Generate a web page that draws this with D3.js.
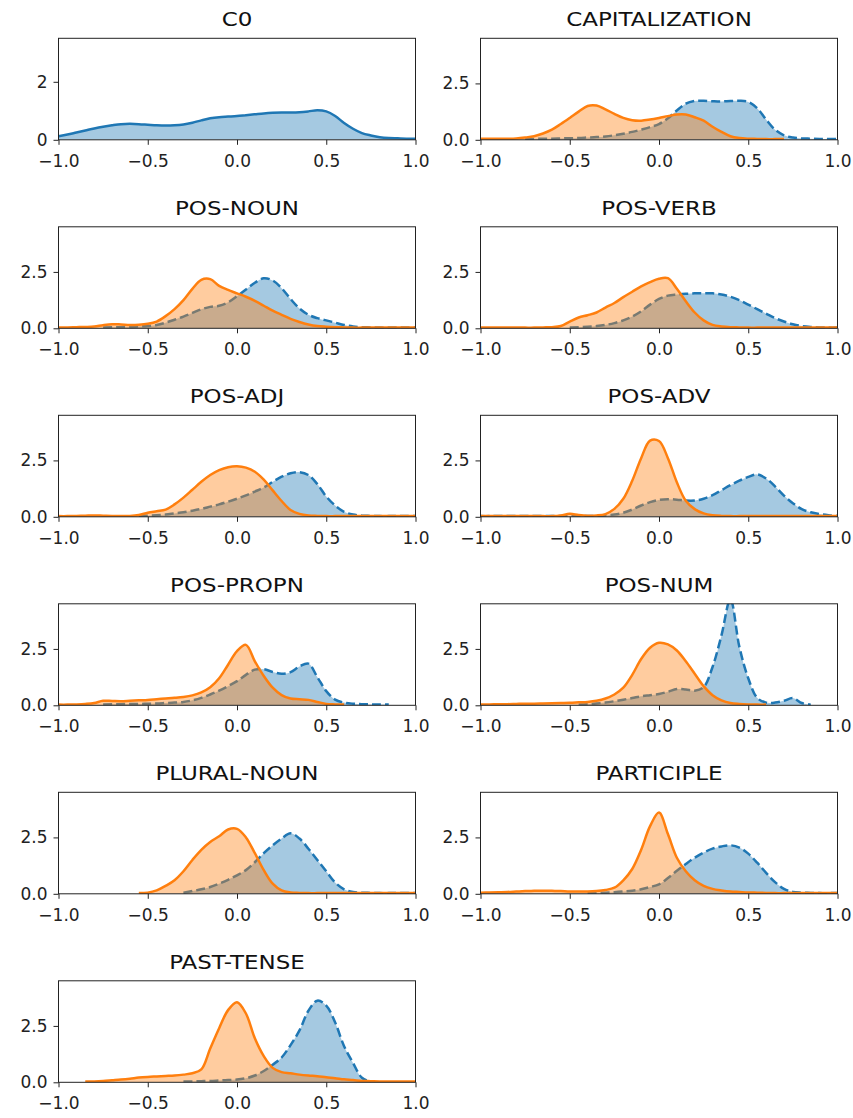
<!DOCTYPE html>
<html>
<head>
<meta charset="utf-8">
<script src="https://cdn.jsdelivr.net/npm/d3@7"></script>
<style>
  html, body { margin: 0; padding: 0; background: #fff; }
  svg { display: block; }
</style>
</head>
<body>
<svg id="chart" width="853" height="1118"></svg>
<script>
// Sampling grid shared by every density curve (x from -1 to 1 in steps of 0.05)
const gridX = [-1, -0.95, -0.9, -0.85, -0.8, -0.75, -0.7, -0.65, -0.6, -0.55,
  -0.5, -0.45, -0.4, -0.35, -0.3, -0.25, -0.2, -0.15, -0.1, -0.05,
  0, 0.05, 0.1, 0.15, 0.2, 0.25, 0.3, 0.35, 0.4, 0.45,
  0.5, 0.55, 0.6, 0.65, 0.7, 0.75, 0.8, 0.85, 0.9, 0.95, 1];

const panelTitles = ["C0", "CAPITALIZATION", "POS-NOUN", "POS-VERB", "POS-ADJ", "POS-ADV",
  "POS-PROPN", "POS-NUM", "PLURAL-NOUN", "PARTICIPLE", "PAST-TENSE"];

const xTicks = [-1, -0.5, 0, 0.5, 1];
const yTicksC0 = [0, 2];
const yTicks = [0, 2.5];
const yMaxC0 = 3.5;
const yMax = 4.5;

// Density values on gridX; null where a curve is not drawn
const c0Density = [0.12, 0.18, 0.25, 0.32, 0.39, 0.45, 0.5, 0.54, 0.55, 0.54,
  0.52, 0.5, 0.49, 0.5, 0.53, 0.59, 0.67, 0.74, 0.78, 0.8,
  0.82, 0.85, 0.88, 0.91, 0.93, 0.94, 0.94, 0.95, 0.98, 1.02,
  0.98, 0.82, 0.58, 0.38, 0.23, 0.15, 0.09, 0.06, 0.05, 0.04, 0.04];

const capitalizationBlue = [null, null, null, null, null, 0.03, 0.04, 0.05, 0.05, 0.06,
  0.07, 0.08, 0.1, 0.12, 0.15, 0.2, 0.27, 0.35, 0.45, 0.56,
  0.7, 0.95, 1.3, 1.6, 1.72, 1.73, 1.71, 1.7, 1.72, 1.73,
  1.68, 1.4, 0.9, 0.45, 0.2, 0.1, 0.06, 0.05, 0.04, 0.04, 0.03];
const capitalizationOrange = [0.05, 0.05, 0.05, 0.05, 0.06, 0.1, 0.16, 0.28, 0.45, 0.7,
  0.97, 1.25, 1.5, 1.52, 1.35, 1.15, 0.97, 0.87, 0.85, 0.9,
  0.97, 1.05, 1.12, 1.12, 1.0, 0.85, 0.58, 0.35, 0.16, 0.08,
  0.05, 0.04, 0.03, 0.03, 0.03, null, null, null, null, null, null];

const nounBlue = [null, null, null, null, null, 0.04, 0.05, 0.05, 0.06, 0.08,
  0.1, 0.15, 0.25, 0.38, 0.52, 0.68, 0.84, 0.95, 1.0, 1.15,
  1.42, 1.72, 2.02, 2.22, 2.12, 1.78, 1.3, 0.88, 0.6, 0.45,
  0.35, 0.25, 0.15, 0.08, 0.05, 0.04, 0.03, 0.03, 0.03, 0.03, 0.03];
const nounOrange = [0.04, 0.04, 0.05, 0.06, 0.08, 0.14, 0.18, 0.17, 0.15, 0.16,
  0.2, 0.3, 0.54, 0.85, 1.25, 1.75, 2.15, 2.18, 1.88, 1.7,
  1.55, 1.4, 1.22, 1.0, 0.78, 0.6, 0.42, 0.28, 0.17, 0.1,
  0.07, 0.05, 0.04, 0.03, 0.03, 0.03, 0.03, 0.03, 0.03, 0.03, 0.03];

const verbBlue = [null, null, null, null, null, null, null, null, null, null,
  0.04, 0.05, 0.07, 0.1, 0.15, 0.23, 0.35, 0.52, 0.75, 1.05,
  1.3, 1.45, 1.5, 1.53, 1.55, 1.55, 1.55, 1.5, 1.4, 1.25,
  1.05, 0.85, 0.65, 0.45, 0.3, 0.18, 0.1, 0.06, 0.04, 0.03, 0.03];
const verbOrange = [0.03, 0.03, 0.03, 0.03, 0.03, 0.03, 0.03, 0.04, 0.05, 0.1,
  0.3, 0.48, 0.58, 0.7, 0.92, 1.12, 1.38, 1.62, 1.86, 2.05,
  2.2, 2.22, 1.75, 1.2, 0.7, 0.35, 0.15, 0.08, 0.05, 0.04,
  0.03, 0.03, 0.03, 0.03, 0.03, 0.03, 0.03, 0.03, 0.03, 0.03, 0.03];

const adjBlue = [null, null, null, null, null, null, null, null, null, 0.03,
  0.05, 0.07, 0.1, 0.15, 0.2, 0.27, 0.35, 0.45, 0.55, 0.67,
  0.8, 0.95, 1.12, 1.3, 1.55, 1.78, 1.93, 1.98, 1.85, 1.45,
  0.9, 0.5, 0.22, 0.1, 0.05, 0.04, 0.03, 0.03, 0.03, 0.03, 0.03];
const adjOrange = [0.03, 0.03, 0.04, 0.05, 0.06, 0.05, 0.04, 0.04, 0.04, 0.08,
  0.18, 0.25, 0.32, 0.55, 0.85, 1.2, 1.55, 1.85, 2.07, 2.2,
  2.24, 2.18, 2.0, 1.65, 1.17, 0.7, 0.3, 0.13, 0.06, 0.04,
  0.03, 0.03, 0.03, 0.03, 0.03, 0.03, 0.03, 0.03, 0.03, 0.03, 0.03];

const advBlue = [0.03, 0.03, 0.04, 0.04, 0.04, 0.04, 0.04, 0.04, 0.04, 0.04,
  0.04, 0.04, 0.04, 0.04, 0.06, 0.1, 0.18, 0.32, 0.5, 0.65,
  0.75, 0.78, 0.76, 0.72, 0.72, 0.8, 0.96, 1.18, 1.4, 1.6,
  1.77, 1.88, 1.7, 1.35, 0.94, 0.6, 0.34, 0.2, 0.12, 0.07, 0.04];
const advOrange = [0.03, 0.03, 0.03, 0.03, 0.03, 0.03, 0.03, 0.03, 0.03, 0.06,
  0.13, 0.08, 0.05, 0.06, 0.12, 0.35, 0.8, 1.6, 2.6, 3.38,
  3.36, 2.6, 1.53, 0.71, 0.34, 0.15, 0.07, 0.04, 0.03, 0.03,
  0.03, 0.03, 0.03, 0.03, 0.03, 0.03, 0.03, 0.03, 0.03, 0.03, 0.03];

const propnBlue = [null, null, null, null, null, 0.04, 0.05, 0.05, 0.06, 0.06,
  0.07, 0.08, 0.1, 0.12, 0.15, 0.22, 0.33, 0.48, 0.65, 0.85,
  1.07, 1.35, 1.58, 1.6, 1.48, 1.4, 1.47, 1.72, 1.85, 1.25,
  0.63, 0.25, 0.12, 0.07, 0.05, 0.04, 0.04, 0.03, null, null, null];
const propnOrange = [0.03, 0.03, 0.04, 0.06, 0.1, 0.2, 0.19, 0.18, 0.2, 0.22,
  0.24, 0.27, 0.3, 0.33, 0.37, 0.44, 0.57, 0.8, 1.2, 1.8,
  2.4, 2.68, 1.95, 1.3, 0.78, 0.45, 0.3, 0.27, 0.24, 0.15,
  0.06, 0.04, 0.03, null, null, null, null, null, null, null, null];

const numBlue = [null, null, null, null, null, null, null, null, null, null,
  null, 0.03, 0.05, 0.08, 0.12, 0.18, 0.25, 0.32, 0.4, 0.45,
  0.5, 0.6, 0.72, 0.7, 0.65, 0.8, 1.7, 3.1, 4.7, 2.6,
  1.2, 0.33, 0.12, 0.12, 0.2, 0.32, 0.1, 0.03, null, null, null];
const numOrange = [0.04, 0.04, 0.05, 0.05, 0.06, 0.07, 0.07, 0.08, 0.09, 0.1,
  0.11, 0.13, 0.15, 0.2, 0.3, 0.48, 0.78, 1.35, 2.05, 2.55,
  2.77, 2.7, 2.43, 1.95, 1.4, 0.85, 0.45, 0.22, 0.1, 0.06,
  0.04, 0.03, 0.03, null, null, null, null, null, null, null, null];

const pluralBlue = [null, null, null, null, null, null, null, null, null, null,
  null, null, null, null, 0.05, 0.12, 0.2, 0.3, 0.45, 0.62,
  0.82, 1.05, 1.4, 1.8, 2.15, 2.45, 2.68, 2.45, 2.0, 1.5,
  1.0, 0.5, 0.2, 0.08, 0.05, 0.04, 0.03, 0.03, 0.03, 0.03, 0.03];
const pluralOrange = [null, null, null, null, null, null, null, null, null, 0.03,
  0.05, 0.15, 0.35, 0.6, 1.0, 1.5, 1.95, 2.3, 2.55, 2.85,
  2.88, 2.5, 1.8, 1.05, 0.45, 0.15, 0.06, 0.04, 0.03, 0.03,
  0.03, 0.03, 0.03, 0.03, 0.03, 0.03, 0.03, 0.03, 0.03, 0.03, 0.03];

const participleBlue = [null, null, null, null, null, null, null, null, null, null,
  null, null, 0.03, 0.04, 0.05, 0.07, 0.1, 0.14, 0.2, 0.3,
  0.42, 0.7, 1.02, 1.32, 1.6, 1.83, 2.0, 2.1, 2.15, 2.05,
  1.78, 1.38, 0.93, 0.52, 0.22, 0.08, 0.05, 0.04, 0.03, 0.03, 0.03];
const participleOrange = [0.05, 0.06, 0.07, 0.08, 0.1, 0.12, 0.13, 0.14, 0.13, 0.12,
  0.1, 0.1, 0.1, 0.12, 0.17, 0.27, 0.6, 1.1, 1.95, 3.0,
  3.6, 2.65, 1.6, 1.0, 0.6, 0.35, 0.22, 0.15, 0.1, 0.08,
  0.06, 0.05, 0.04, 0.03, 0.03, 0.03, 0.03, 0.03, 0.03, 0.03, 0.03];

const pastBlue = [null, null, null, null, null, null, null, null, null, null,
  null, null, null, null, 0.03, 0.04, 0.05, 0.06, 0.08, 0.1,
  0.12, 0.18, 0.3, 0.5, 0.78, 1.1, 1.65, 2.3, 3.17, 3.62,
  3.4, 2.65, 1.6, 0.86, 0.2, 0.02, null, null, null, null, null];
const pastOrange = [null, null, null, 0.03, 0.04, 0.06, 0.09, 0.12, 0.16, 0.21,
  0.24, 0.26, 0.28, 0.3, 0.34, 0.4, 0.57, 1.5, 2.4, 3.2,
  3.55, 3.05, 1.95, 1.16, 0.64, 0.45, 0.4, 0.34, 0.3, 0.27,
  0.22, 0.18, 0.13, 0.1, 0.06, 0.05, 0.04, 0.04, 0.04, 0.04, 0.04];

// One entry per subplot, in reading order
const blueSeries = [c0Density, capitalizationBlue, nounBlue, verbBlue, adjBlue, advBlue,
  propnBlue, numBlue, pluralBlue, participleBlue, pastBlue];
const orangeSeries = [null, capitalizationOrange, nounOrange, verbOrange, adjOrange, advOrange,
  propnOrange, numOrange, pluralOrange, participleOrange, pastOrange];

const BLUE = "#1f77b4";
const ORANGE = "#ff7f0e";

// Grid geometry
const colLeft = [58.5, 480.5];
const panelW = 357;
const panelH = 101.5;
const firstTop = 38.3;
const rowStep = 188.5;

const svg = d3.select("#chart");
const fmt = d3.format(".1f");
const smooth = d3.curveCatmullRom.alpha(0.5);

panelTitles.forEach((title, i) => {
  const col = i % 2, row = Math.floor(i / 2);
  const left = colLeft[col];
  const top = firstTop + row * rowStep;
  const isC0 = i === 0;

  const x = d3.scaleLinear().domain([-1, 1]).range([0, panelW]);
  const y = d3.scaleLinear().domain([0, isC0 ? yMaxC0 : yMax]).range([panelH, 0]);

  const g = svg.append("g").attr("transform", `translate(${left},${top})`);

  const clipId = `clip-${i}`;
  g.append("clipPath").attr("id", clipId)
    .append("rect").attr("width", panelW).attr("height", panelH);

  const plot = g.append("g").attr("clip-path", `url(#${clipId})`);

  const pts = arr => gridX.map((xv, k) => ({ x: xv, v: arr[k] }));

  const area = d3.area()
    .defined(d => d.v != null)
    .x(d => x(d.x))
    .y0(y(0))
    .y1(d => y(d.v))
    .curve(smooth);
  const line = d3.line()
    .defined(d => d.v != null)
    .x(d => x(d.x))
    .y(d => y(d.v))
    .curve(smooth);

  const drawDist = (arr, color, dashed) => {
    const data = pts(arr);
    plot.append("path").datum(data)
      .attr("d", area)
      .attr("fill", color)
      .attr("fill-opacity", 0.4)
      .attr("stroke", "none");
    plot.append("path").datum(data)
      .attr("d", line)
      .attr("fill", "none")
      .attr("stroke", color)
      .attr("stroke-width", 2.5)
      .attr("stroke-linejoin", "round")
      .attr("stroke-dasharray", dashed ? "9,4" : null);
  };

  drawDist(blueSeries[i], BLUE, !isC0);
  if (orangeSeries[i]) drawDist(orangeSeries[i], ORANGE, false);

  // Axes
  const xAxis = d3.axisBottom(x).tickValues(xTicks).tickFormat(fmt)
    .tickSizeOuter(0).tickSize(5).tickPadding(10);
  const yAxis = d3.axisLeft(y).tickValues(isC0 ? yTicksC0 : yTicks)
    .tickFormat(isC0 ? d3.format("d") : fmt)
    .tickSizeOuter(0).tickSize(5).tickPadding(6);

  const xa = g.append("g").attr("transform", `translate(0,${panelH})`).call(xAxis);
  const ya = g.append("g").call(yAxis);
  [xa, ya].forEach(a => {
    a.select(".domain").remove();
    a.selectAll("line").attr("stroke", "#222").attr("stroke-width", 1);
    a.selectAll("text")
      .attr("fill", "#222")
      .style("font-family", "'DejaVu Sans', sans-serif")
      .style("font-size", "17px");
  });

  // Frame
  g.append("rect")
    .attr("width", panelW).attr("height", panelH)
    .attr("fill", "none").attr("stroke", "#222").attr("stroke-width", 1);

  // Title
  g.append("text")
    .attr("transform", `translate(${panelW / 2},-12) scale(1.21,1)`)
    .attr("text-anchor", "middle")
    .attr("fill", "#111")
    .style("font-family", "'DejaVu Sans', sans-serif")
    .style("font-size", "19px")
    .text(title);
});
</script>
</body>
</html>
